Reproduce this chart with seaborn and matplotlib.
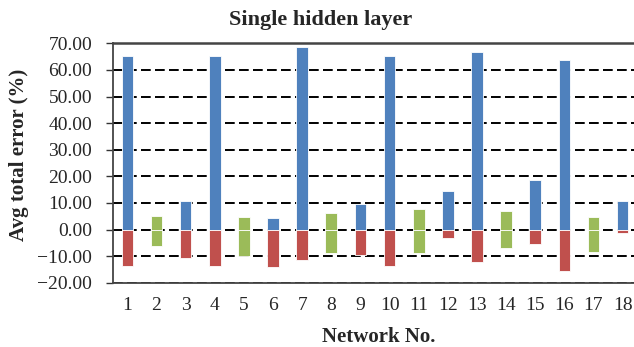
import pandas as pd
import matplotlib
matplotlib.use("Agg")
import matplotlib.pyplot as plt
from matplotlib.ticker import FuncFormatter
import seaborn as sns

networks = [str(i) for i in range(1, 19)]
upper = [65.2, 5.0, 10.7, 65.2, 4.8, 4.5, 68.6, 6.3, 9.8,
         65.2, 7.8, 14.4, 66.8, 7.1, 18.6, 63.7, 4.7, 10.8]
lower = [-13.6, -6.0, -10.7, -13.5, -10.1, -13.9, -11.5, -8.8, -9.6,
         -13.6, -8.7, -3.1, -12.3, -6.9, -5.4, -15.4, -8.4, -1.4]
green_networks = ["2", "5", "8", "11", "14", "17"]

rows = []
for n, u, l in zip(networks, upper, lower):
    if n in green_networks:
        rows.append((n, u, "mid_up"))
        rows.append((n, l, "mid_down"))
    else:
        rows.append((n, u, "pos"))
        rows.append((n, l, "neg"))
df = pd.DataFrame(rows, columns=["network", "value", "series"])

sns.set_style("white")
plt.rcParams["font.family"] = ["Liberation Serif", "DejaVu Serif"]

fig = plt.figure(figsize=(6.34, 3.47), dpi=100)
ax = fig.add_axes([0.178, 0.185, 0.827, 0.69])

palette = {"pos": "#4F81BD", "neg": "#C0504D",
           "mid_up": "#9BBB59", "mid_down": "#9BBB59"}
sns.barplot(data=df, x="network", y="value", hue="series", order=networks,
            palette=palette, dodge=False, width=0.4, ax=ax, legend=False,
            errorbar=None, saturation=1, edgecolor="white", linewidth=0.6)

ax.set_ylim(-20, 70)
ax.set_xlim(-0.5, 17.5)
ax.set_yticks(range(-20, 71, 10))
ax.yaxis.set_major_formatter(FuncFormatter(lambda v, p: f"{v:.2f}".replace("-", "\u2212")))
ax.set_axisbelow(True)
ax.yaxis.grid(True, color="black", linestyle=(0, (5, 2.2)), linewidth=1.4)
ax.tick_params(axis="y", direction="out", length=5, width=1, color="#333333",
               pad=10, labelsize=14, left=True)
ax.tick_params(axis="x", length=0, pad=10, labelsize=14)
for side in ["left", "bottom", "top", "right"]:
    ax.spines[side].set_color("#444444")
    ax.spines[side].set_linewidth(1.3)
ax.spines["top"].set_linewidth(1.8)

ax.set_xlabel("")
ax.set_ylabel("")
fig.text(0.505, 0.942, "Single hidden layer", ha="center", va="center",
         fontsize=16, fontweight="bold")
fig.text(0.598, 0.03, "Network No.", ha="center", va="center",
         fontsize=15, fontweight="bold")
fig.text(0.03, 0.553, "Avg total error (%)", ha="center", va="center",
         rotation=90, fontsize=15, fontweight="bold")

fig.savefig("out.png", dpi=100)
